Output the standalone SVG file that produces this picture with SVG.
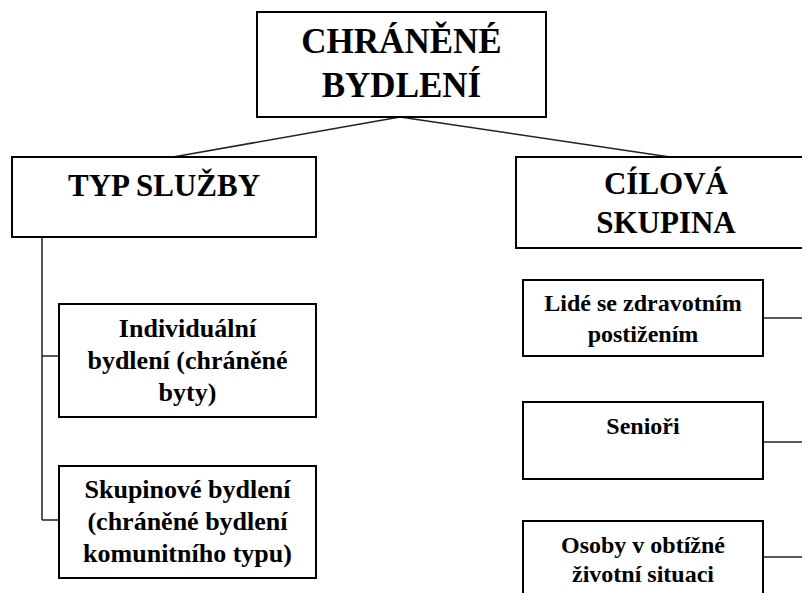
<svg xmlns="http://www.w3.org/2000/svg" width="802" height="593" viewBox="0 0 802 593">
<style>
.box{fill:#fff;stroke:#000;stroke-width:2}
.t{font-family:"Liberation Serif","Times New Roman",serif;font-weight:bold;fill:#000;text-anchor:middle}
.big{font-size:35px}
.mid{font-size:31px}
.sm{font-size:26px}
.sr{font-size:24px}
.c{fill:none;stroke:#222;stroke-width:1.5}
</style>
<rect width="802" height="593" fill="#fff"/>
<g id="connectors">
<path class="c" d="M400 117 L173 157"/>
<path class="c" d="M400 117 L670 157"/>
<path class="c" d="M42 237 V520 M42 356 H59 M42 520 H59"/>
<path class="c" d="M763 318 H802 M763 442 H802 M763 557 H802"/>
</g>
<g id="root">
<rect class="box" x="257" y="12" width="289" height="105"/>
<text class="t big" x="401.5" y="53">CHRÁNĚNÉ</text>
<text class="t big" x="401.5" y="97">BYDLENÍ</text>
</g>
<g id="typ">
<rect class="box" x="12" y="157" width="304" height="80"/>
<text class="t mid" x="164" y="196">TYP SLUŽBY</text>
</g>
<g id="cil">
<rect class="box" x="516" y="157" width="290" height="91"/>
<text class="t mid" x="666" y="194">CÍLOVÁ</text>
<text class="t mid" x="666" y="233">SKUPINA</text>
</g>
<g id="individualni">
<rect class="box" x="59" y="304" width="257" height="113"/>
<text class="t sm" x="187.5" y="337">Individuální</text>
<text class="t sm" x="187.5" y="369">bydlení (chráněné</text>
<text class="t sm" x="187.5" y="401">byty)</text>
</g>
<g id="skupinove">
<rect class="box" x="59" y="466" width="257" height="112"/>
<text class="t sm" x="187.5" y="498">Skupinové bydlení</text>
<text class="t sm" x="187.5" y="530">(chráněné bydlení</text>
<text class="t sm" x="187.5" y="562">komunitního typu)</text>
</g>
<g id="lide">
<rect class="box" x="523" y="280" width="240" height="76"/>
<text class="t sr" x="643" y="311">Lidé se zdravotním</text>
<text class="t sr" x="643" y="342">postižením</text>
</g>
<g id="seniori">
<rect class="box" x="523" y="402" width="240" height="77"/>
<text class="t sr" x="643" y="434">Senioři</text>
</g>
<g id="osoby">
<rect class="box" x="523" y="521" width="240" height="80"/>
<text class="t sr" x="643" y="553">Osoby v obtížné</text>
<text class="t sr" x="643" y="582">životní situaci</text>
</g>
</svg>
